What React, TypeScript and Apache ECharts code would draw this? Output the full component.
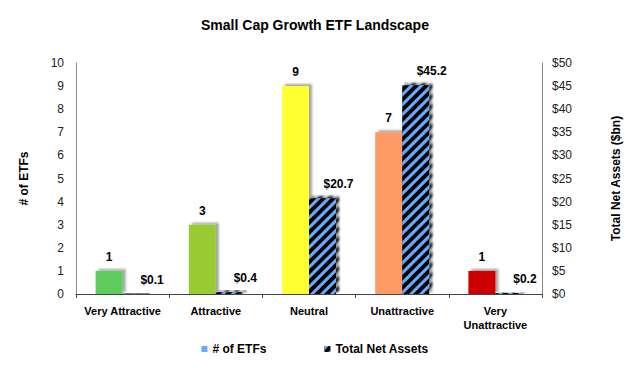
import React, { useEffect, useRef } from "react";
import * as echarts from "echarts";

const categories = ["Very Attractive", "Attractive", "Neutral", "Unattractive", "Very\nUnattractive"];
const etfCounts = [1, 3, 9, 7, 1];
const etfColors = ["#5fcc5f", "#99cc33", "#ffff33", "#ff9966", "#cc0000"];
const netAssets = [0.1, 0.4, 20.7, 45.2, 0.2];
const leftTicks = { min: 0, max: 10, interval: 1 };
const rightTicks = { min: 0, max: 50, interval: 5 };

const FONT = "Liberation Sans, Arial, sans-serif";

export default function App() {
  const ref = useRef<HTMLDivElement>(null);
  useEffect(() => {
    if (!ref.current) return;
    const chart = echarts.init(ref.current, null, { renderer: "svg" });
    const shadow = {
      shadowColor: "rgba(0,0,0,0.35)",
      shadowOffsetX: 3,
      shadowOffsetY: -2,
      shadowBlur: 2,
    };
    chart.setOption({
      animation: false,
      backgroundColor: "#fff",
      textStyle: { fontFamily: FONT },
      title: {
        text: "Small Cap Growth ETF Landscape",
        left: "center",
        top: 13,
        textStyle: { fontFamily: FONT, fontSize: 14, fontWeight: "bold", color: "#000" },
      },
      legend: {
        bottom: 8,
        left: "center",
        itemWidth: 6,
        itemHeight: 6,
        itemGap: 58,
        icon: "rect",
        textStyle: { fontFamily: FONT, fontSize: 12, fontWeight: "bold", color: "#000" },
        data: ["# of ETFs", "Total Net Assets"],
      },
      grid: { left: 76, right: 87, top: 63, bottom: 74 },
      xAxis: {
        type: "category",
        data: categories,
        axisLine: { lineStyle: { color: "#444", width: 1 } },
        axisTick: { show: true, alignWithLabel: false, length: 4, lineStyle: { color: "#444" } },
        axisLabel: {
          fontFamily: FONT,
          fontSize: 11,
          fontWeight: "bold",
          color: "#000",
          margin: 10,
          interval: 0,
          lineHeight: 14,
        },
      },
      yAxis: [
        {
          type: "value",
          min: leftTicks.min,
          max: leftTicks.max,
          interval: leftTicks.interval,
          name: "# of ETFs",
          nameLocation: "middle",
          nameGap: 46,
          nameTextStyle: { fontFamily: FONT, fontSize: 12, fontWeight: "bold", color: "#000" },
          axisLine: { show: true, lineStyle: { color: "#888" } },
          axisTick: { show: false },
          splitLine: { show: false },
          axisLabel: { fontFamily: FONT, fontSize: 12, color: "#222", margin: 12 },
        },
        {
          type: "value",
          min: rightTicks.min,
          max: rightTicks.max,
          interval: rightTicks.interval,
          name: "Total Net Assets ($bn)",
          nameLocation: "middle",
          nameGap: 68,
          nameRotate: 90,
          nameTextStyle: { fontFamily: FONT, fontSize: 12, fontWeight: "bold", color: "#000" },
          axisLine: { show: true, lineStyle: { color: "#888" } },
          axisTick: { show: false },
          splitLine: { show: false },
          axisLabel: {
            fontFamily: FONT,
            fontSize: 12,
            color: "#222",
            margin: 10,
            formatter: (v: number) => "$" + v,
          },
        },
      ],
      series: [
        {
          name: "# of ETFs",
          type: "bar",
          yAxisIndex: 0,
          barWidth: 27,
          barGap: "0%",
          itemStyle: { color: "#66aaff" },
          data: etfCounts.map((v, i) => ({
            value: v,
            itemStyle: { color: etfColors[i], ...shadow },
          })),
          label: {
            show: true,
            position: "top",
            distance: 8,
            fontFamily: FONT,
            fontSize: 12,
            fontWeight: "bold",
            color: "#000",
          },
        },
        {
          name: "Total Net Assets",
          type: "bar",
          yAxisIndex: 1,
          barWidth: 27,
          barGap: "0%",
          itemStyle: {
            color: "#000",
            ...shadow,
            decal: {
              symbol: "rect",
              symbolSize: 1,
              color: "#66aaff",
              dashArrayX: [1, 0],
              dashArrayY: [2.5, 3.5],
              rotation: -Math.PI / 4,
            },
          },
          data: netAssets,
          label: {
            show: true,
            position: "top",
            distance: 8,
            offset: [16, 0],
            fontFamily: FONT,
            fontSize: 12,
            fontWeight: "bold",
            color: "#000",
            formatter: (p: any) => "$" + p.value,
          },
        },
      ],
    });
    return () => chart.dispose();
  }, []);
  return (
    <div
      ref={ref}
      style={{ position: "absolute", left: 0, top: 0, width: 630, height: 368 }}
    />
  );
}
